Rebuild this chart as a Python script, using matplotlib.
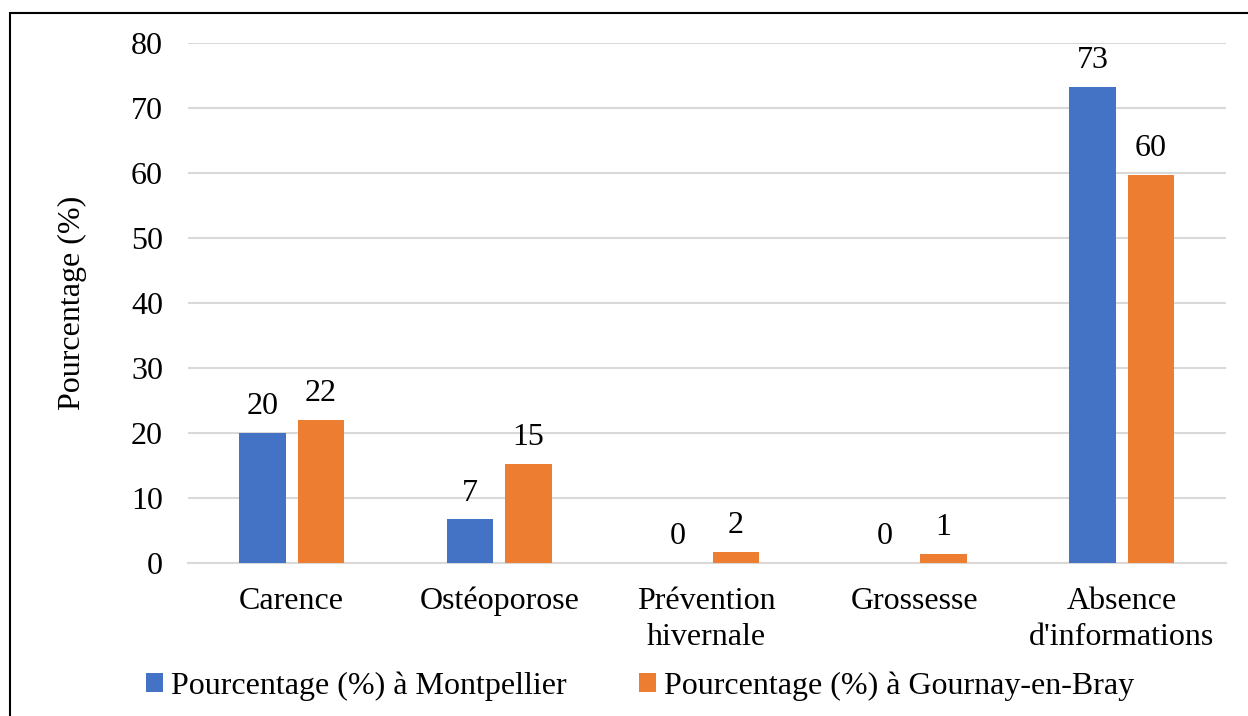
import matplotlib
matplotlib.use("Agg")
from matplotlib import pyplot as plt
from matplotlib.patches import Rectangle
import numpy as np

categories = ["Carence", "Ostéoporose", "Prévention\nhivernale", "Grossesse", "Absence\nd'informations"]
montpellier = [20.0, 6.7, 0.0, 0.0, 73.3]
gournay = [22.0, 15.2, 1.7, 1.4, 59.7]
label_1 = "Pourcentage (%) à Montpellier"
label_2 = "Pourcentage (%) à Gournay-en-Bray"
yticks = [0, 10, 20, 30, 40, 50, 60, 70, 80]

plt.rcParams['font.family'] = ['Liberation Serif', 'DejaVu Serif']
fs = 23

fig = plt.figure(figsize=(12.48, 7.16), dpi=100)
ax = fig.add_axes([0.1506, 0.2137, 0.8314, 0.7263])

x = np.arange(len(categories))
w = 0.226
off = 0.141
b1 = ax.bar(x - off, montpellier, w, color='#4472c4', label=label_1, zorder=3)
b2 = ax.bar(x + off, gournay, w, color='#ed7d31', label=label_2, zorder=3)

#data labels, rounded like the original
for bars in (b1, b2):
    for rect in bars:
        h = rect.get_height()
        ax.annotate("%d" % round(h), (rect.get_x() + rect.get_width() / 2, h),
                    xytext=(0, 8.5), textcoords='offset points',
                    ha='center', va='bottom', fontsize=fs)

ax.set_xlim(-0.5, len(categories) - 0.5)
ax.set_ylim(0, 80)
ax.set_yticks(yticks)
ax.set_xticks(x)
ax.set_xticklabels(categories, fontsize=fs, linespacing=1.35)
ax.tick_params(axis='both', length=0, labelsize=fs)
ax.tick_params(axis='y', pad=18)
ax.tick_params(axis='x', pad=17)
ax.yaxis.grid(True, color='#d9d9d9', linewidth=1.5, zorder=0)
for s in ('top', 'right', 'left'):
    ax.spines[s].set_visible(False)
ax.spines['bottom'].set_color('#d9d9d9')
ax.spines['bottom'].set_linewidth(1.5)
ax.set_ylabel("Pourcentage (%)", fontsize=fs, labelpad=32)

fig.legend(loc='center', bbox_to_anchor=(0.513, 0.042), ncol=2, frameon=False,
           fontsize=fs, handlelength=0.55, handleheight=0.55, handletextpad=0.25,
           columnspacing=2.25)

#outer frame
fig.patches.append(Rectangle((0.008, -0.1), 1.1, 1.082, transform=fig.transFigure,
                             fill=False, edgecolor='black', linewidth=1.5))

fig.savefig("out.png", dpi=100)
